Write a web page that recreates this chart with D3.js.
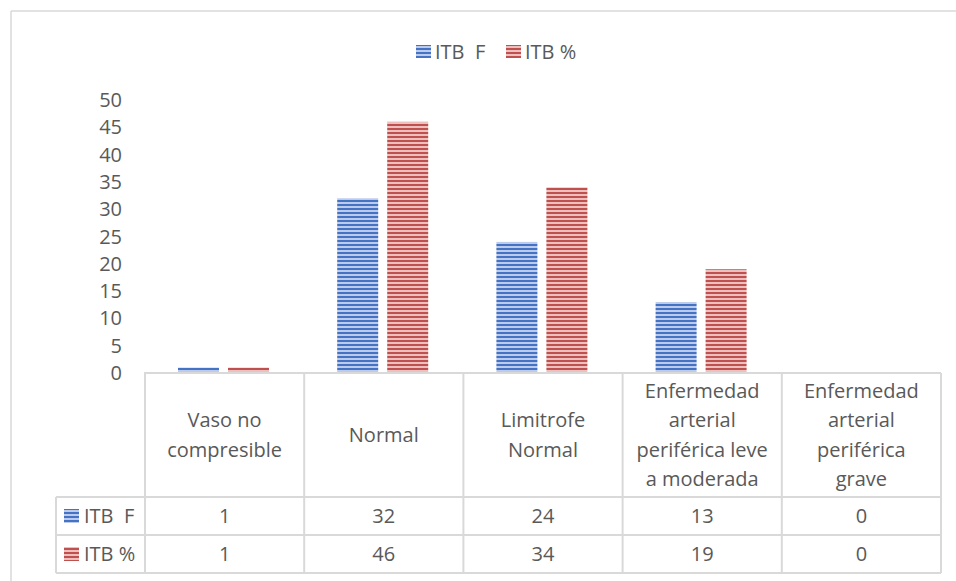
<!DOCTYPE html>
<html><head><meta charset="utf-8">
<script src="https://cdn.jsdelivr.net/npm/d3@7/dist/d3.min.js"></script>
<style>body{margin:0;background:#fff}svg{display:block}text{font-family:"Open Sans",sans-serif;fill:#595959}</style>
</head><body>
<script>
const categories = [["Vaso no","compresible"],["Normal"],["Limitrofe","Normal"],["Enfermedad","arterial","periférica leve","a moderada"],["Enfermedad","arterial","periférica","grave"]];
const seriesNames = ["ITB  F","ITB %"];
const seriesF = [1,32,24,13,0];
const seriesPct = [1,46,34,19,0];
const yTicks = [0,5,10,15,20,25,30,35,40,45,50];
const colors = ["#4472C4","#C0504D"];
const lightColors = ["#bccbe9","#ebc0bf"];

const W=956,H=581, FS="20px";
const svg=d3.select("body").append("svg").attr("width",W).attr("height",H);
const defs=svg.append("defs");
colors.forEach((c,i)=>{
  const p=defs.append("pattern").attr("id","pat"+i).attr("patternUnits","userSpaceOnUse").attr("width",8).attr("height",4);
  p.append("rect").attr("width",8).attr("height",4).attr("fill",lightColors[i]);
  p.append("rect").attr("width",8).attr("height",2).attr("fill",c);
});

const grey="#d9d9d9";
svg.append("line").attr("x1",11).attr("x2",W).attr("y1",11).attr("y2",11).attr("stroke",grey).attr("stroke-width",1.5);
svg.append("line").attr("x1",11).attr("x2",11).attr("y1",11).attr("y2",H).attr("stroke",grey).attr("stroke-width",1.5);

const left=145,right=941,y0=373,yTop=100;
const x0=d3.scaleBand().domain(d3.range(categories.length)).range([left,right]);
const x1=d3.scaleBand().domain([0,1]).range([33,124]).paddingInner(0.18);
const y=d3.scaleLinear().domain([0,50]).range([y0,yTop]);
const data=[seriesF,seriesPct];

svg.append("g").selectAll("text").data(yTicks).join("text")
  .attr("x",122).attr("y",d=>y(d)).attr("dy","0.35em").attr("text-anchor","end")
  .style("font-size",FS).text(d=>d);

data.forEach((vals,si)=>{
  svg.append("g").selectAll("rect").data(vals).join("rect")
    .attr("x",(d,i)=>x0(i)+x1(si)).attr("width",x1.bandwidth())
    .attr("y",d=>y(d)).attr("height",d=>y0-y(d))
    .attr("fill","url(#pat"+si+")");
});

const rowTop=[y0,497,535,573];
const tbl=svg.append("g");
tbl.append("line").attr("x1",left-1).attr("x2",right).attr("y1",y0).attr("y2",y0).attr("stroke",grey).attr("stroke-width",2);
[497,535,573].forEach(yy=>tbl.append("line").attr("x1",56).attr("x2",right).attr("y1",yy).attr("y2",yy).attr("stroke",grey).attr("stroke-width",2));
d3.range(categories.length+1).forEach(i=>{
  const xx=i<categories.length?x0(i):right;
  tbl.append("line").attr("x1",xx).attr("x2",xx).attr("y1",y0).attr("y2",573).attr("stroke",grey).attr("stroke-width",2);
});
tbl.append("line").attr("x1",56).attr("x2",56).attr("y1",497).attr("y2",573).attr("stroke",grey).attr("stroke-width",2);

const lh=29.3, hc=(y0+497)/2;
categories.forEach((lines,i)=>{
  const cx=x0(i)+x0.bandwidth()/2;
  lines.forEach((t,j)=>{
    tbl.append("text").attr("x",cx).attr("y",hc+(j-(lines.length-1)/2)*lh).attr("dy","0.35em")
      .attr("text-anchor","middle").style("font-size",FS).text(t);
  });
});
data.forEach((vals,si)=>{
  const cy=(rowTop[si+1]+rowTop[si+2])/2;
  vals.forEach((v,i)=>{
    tbl.append("text").attr("x",x0(i)+x0.bandwidth()/2).attr("y",cy).attr("dy","0.35em")
      .attr("text-anchor","middle").style("font-size",FS).text(v);
  });
  tbl.append("rect").attr("x",64).attr("y",cy-7).attr("width",15).attr("height",14).attr("fill","url(#pat"+si+")");
  tbl.append("text").attr("x",84).attr("y",cy).attr("dy","0.35em")
    .style("white-space","pre").style("font-size",FS).text(seriesNames[si]);
});

const lg=svg.append("g");
const legX=[416,506];
seriesNames.forEach((n,i)=>{
  lg.append("rect").attr("x",legX[i]).attr("y",45).attr("width",15).attr("height",13).attr("fill","url(#pat"+i+")");
  lg.append("text").attr("x",legX[i]+19).attr("y",52).attr("dy","0.35em").style("white-space","pre")
    .style("font-size",FS).text(n);
});
</script>
</body></html>
